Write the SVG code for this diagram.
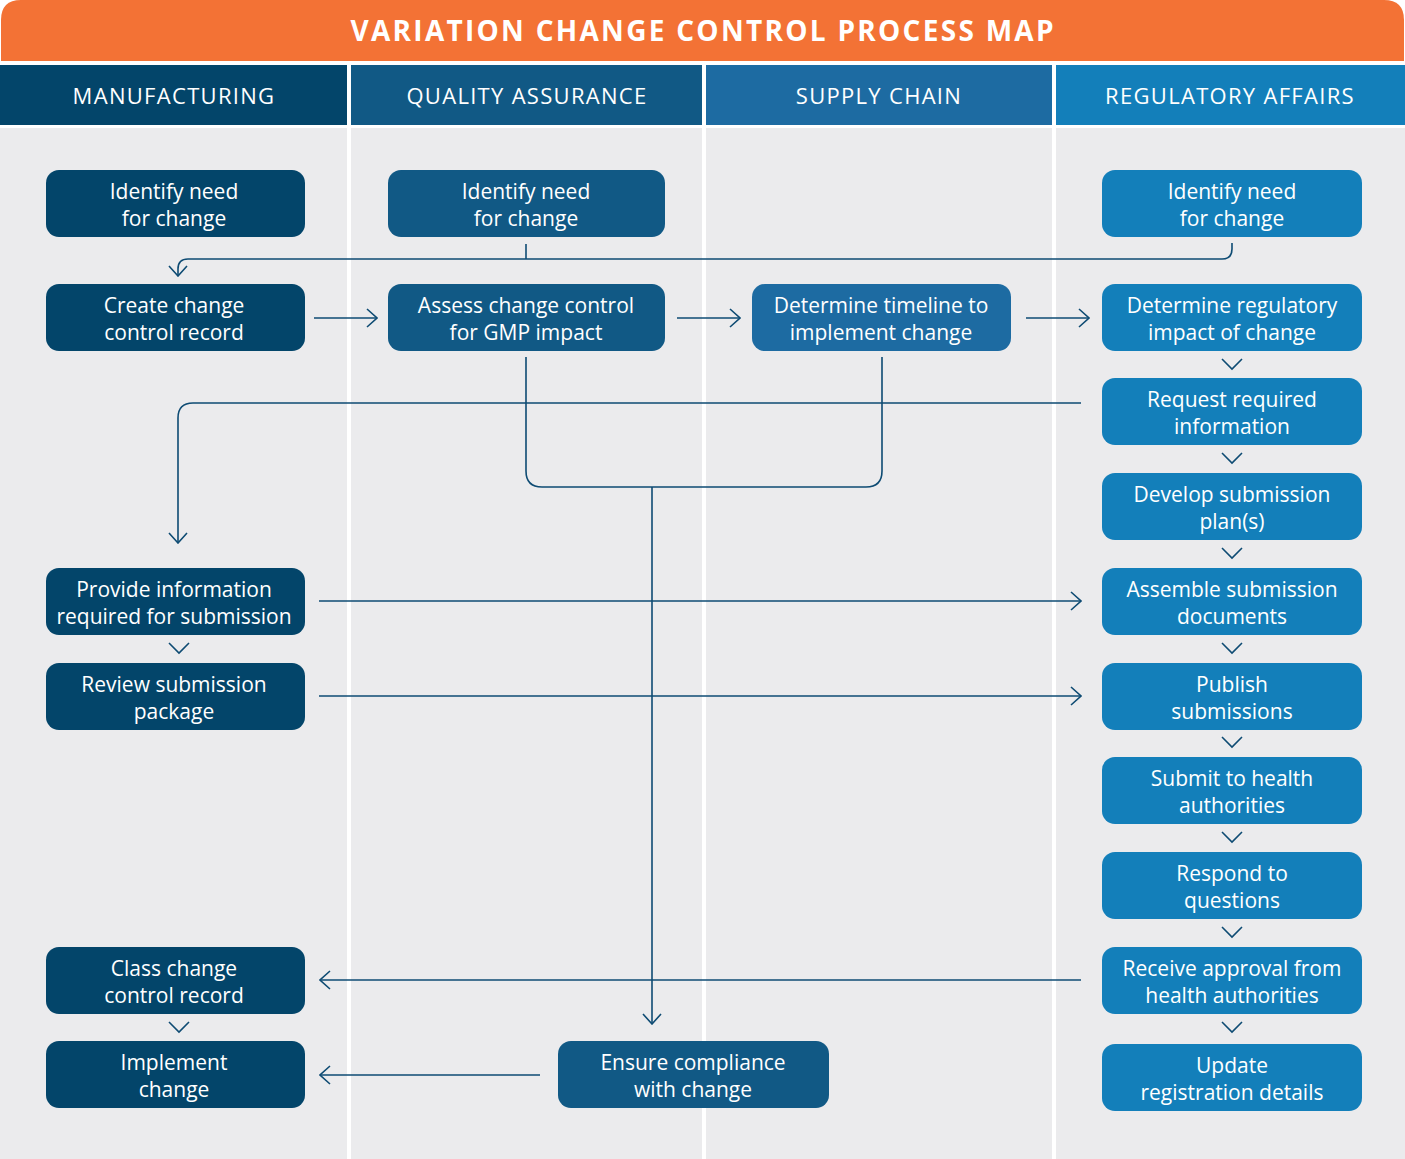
<svg xmlns="http://www.w3.org/2000/svg" width="1405" height="1159" viewBox="0 0 1405 1159">
<style>
.lane{fill:#EBEBED}
.hdr{font-family:"Open Sans","Liberation Sans",sans-serif;font-size:22px;fill:#fff;text-anchor:middle;letter-spacing:1.3px}
.t{font-family:"Open Sans","Liberation Sans",sans-serif;font-size:21px;fill:#fff;text-anchor:middle}
.m{fill:#03456A}
.q{fill:#115985}
.s{fill:#1D6BA2}
.r{fill:#137FBA}
.c{fill:none;stroke:#0E4B73;stroke-width:1.6}
.ch{fill:none;stroke:#0E4B73;stroke-width:1.6}
</style>
<defs>
<marker id="a" viewBox="0 0 12 20" refX="11" refY="10" markerWidth="12" markerHeight="20" markerUnits="userSpaceOnUse" orient="auto">
<path d="M1,1 L11,10 L1,19" fill="none" stroke="#0E4B73" stroke-width="1.6"/>
</marker>
</defs>
<rect width="1405" height="1159" fill="#fff"/>
<path d="M1,61 V20 Q1,0 21,0 H1384 Q1404,0 1404,20 V61 Z" fill="#F37235"/>
<text x="702" y="41" font-family="'Open Sans','Liberation Sans',sans-serif" font-size="28" font-weight="bold" fill="#fff" text-anchor="middle" textLength="703" lengthAdjust="spacing">VARIATION CHANGE CONTROL PROCESS MAP</text>
<g id="lanes">
<rect class="lane" x="0" y="128" width="347" height="1031"/>
<rect class="lane" x="351" y="128" width="351" height="1031"/>
<rect class="lane" x="706" y="128" width="346" height="1031"/>
<rect class="lane" x="1056" y="128" width="349" height="1031"/>
<rect class="m" x="0" y="65" width="347" height="60"/>
<rect class="q" x="351" y="65" width="351" height="60"/>
<rect class="s" x="706" y="65" width="346" height="60"/>
<rect class="r" x="1056" y="65" width="349" height="60"/>
<text class="hdr" x="174" y="104">MANUFACTURING</text>
<text class="hdr" x="527" y="104">QUALITY ASSURANCE</text>
<text class="hdr" x="879" y="104">SUPPLY CHAIN</text>
<text class="hdr" x="1230" y="104">REGULATORY AFFAIRS</text>
</g>
<g id="connectors">
<path class="c" d="M1232,243 V249 Q1232,259 1222,259 H188 Q178,259 178,269 V276" marker-end="url(#a)"/>
<path class="c" d="M526,244 V259"/>
<path class="c" d="M314,318 H377" marker-end="url(#a)"/>
<path class="c" d="M677,318 H740" marker-end="url(#a)"/>
<path class="c" d="M1026,318 H1089" marker-end="url(#a)"/>
<path class="c" d="M1081,403 H193 Q178,403 178,418 V543" marker-end="url(#a)"/>
<path class="c" d="M526,357 V471 Q526,487 542,487 H866 Q882,487 882,471 V357"/>
<path class="c" d="M652,487 V1024" marker-end="url(#a)"/>
<path class="c" d="M319,601 H1081" marker-end="url(#a)"/>
<path class="c" d="M319,696 H1081" marker-end="url(#a)"/>
<path class="c" d="M1081,980 H320" marker-end="url(#a)"/>
<path class="c" d="M540,1075 H320" marker-end="url(#a)"/>
<path class="ch" d="M1222,359 L1232,369 L1242,359"/>
<path class="ch" d="M1222,453 L1232,463 L1242,453"/>
<path class="ch" d="M1222,548 L1232,558 L1242,548"/>
<path class="ch" d="M1222,643 L1232,653 L1242,643"/>
<path class="ch" d="M1222,737 L1232,747 L1242,737"/>
<path class="ch" d="M1222,832 L1232,842 L1242,832"/>
<path class="ch" d="M1222,927 L1232,937 L1242,927"/>
<path class="ch" d="M1222,1022 L1232,1032 L1242,1022"/>
<path class="ch" d="M169,643 L179,653 L189,643"/>
<path class="ch" d="M169,1022 L179,1032 L189,1022"/>
</g>
<g id="m1"><rect class="m" x="46" y="170" width="259" height="67" rx="13"/><text class="t" x="174" y="199">Identify need</text><text class="t" x="174" y="226">for change</text></g>
<g id="m2"><rect class="m" x="46" y="284" width="259" height="67" rx="13"/><text class="t" x="174" y="313">Create change</text><text class="t" x="174" y="340">control record</text></g>
<g id="m3"><rect class="m" x="46" y="568" width="259" height="67" rx="13"/><text class="t" x="174" y="597">Provide information</text><text class="t" x="174" y="624">required for submission</text></g>
<g id="m4"><rect class="m" x="46" y="663" width="259" height="67" rx="13"/><text class="t" x="174" y="692">Review submission</text><text class="t" x="174" y="719">package</text></g>
<g id="m5"><rect class="m" x="46" y="947" width="259" height="67" rx="13"/><text class="t" x="174" y="976">Class change</text><text class="t" x="174" y="1003">control record</text></g>
<g id="m6"><rect class="m" x="46" y="1041" width="259" height="67" rx="13"/><text class="t" x="174" y="1070">Implement</text><text class="t" x="174" y="1097">change</text></g>
<g id="q1"><rect class="q" x="388" y="170" width="277" height="67" rx="13"/><text class="t" x="526" y="199">Identify need</text><text class="t" x="526" y="226">for change</text></g>
<g id="q2"><rect class="q" x="388" y="284" width="277" height="67" rx="13"/><text class="t" x="526" y="313">Assess change control</text><text class="t" x="526" y="340">for GMP impact</text></g>
<g id="q3"><rect class="q" x="558" y="1041" width="271" height="67" rx="13"/><text class="t" x="693" y="1070">Ensure compliance</text><text class="t" x="693" y="1097">with change</text></g>
<g id="s1"><rect class="s" x="752" y="284" width="259" height="67" rx="13"/><text class="t" x="881" y="313">Determine timeline to</text><text class="t" x="881" y="340">implement change</text></g>
<g id="r1"><rect class="r" x="1102" y="170" width="260" height="67" rx="13"/><text class="t" x="1232" y="199">Identify need</text><text class="t" x="1232" y="226">for change</text></g>
<g id="r2"><rect class="r" x="1102" y="284" width="260" height="67" rx="13"/><text class="t" x="1232" y="313">Determine regulatory</text><text class="t" x="1232" y="340">impact of change</text></g>
<g id="r3"><rect class="r" x="1102" y="378" width="260" height="67" rx="13"/><text class="t" x="1232" y="407">Request required</text><text class="t" x="1232" y="434">information</text></g>
<g id="r4"><rect class="r" x="1102" y="473" width="260" height="67" rx="13"/><text class="t" x="1232" y="502">Develop submission</text><text class="t" x="1232" y="529">plan(s)</text></g>
<g id="r5"><rect class="r" x="1102" y="568" width="260" height="67" rx="13"/><text class="t" x="1232" y="597">Assemble submission</text><text class="t" x="1232" y="624">documents</text></g>
<g id="r6"><rect class="r" x="1102" y="663" width="260" height="67" rx="13"/><text class="t" x="1232" y="692">Publish</text><text class="t" x="1232" y="719">submissions</text></g>
<g id="r7"><rect class="r" x="1102" y="757" width="260" height="67" rx="13"/><text class="t" x="1232" y="786">Submit to health</text><text class="t" x="1232" y="813">authorities</text></g>
<g id="r8"><rect class="r" x="1102" y="852" width="260" height="67" rx="13"/><text class="t" x="1232" y="881">Respond to</text><text class="t" x="1232" y="908">questions</text></g>
<g id="r9"><rect class="r" x="1102" y="947" width="260" height="67" rx="13"/><text class="t" x="1232" y="976">Receive approval from</text><text class="t" x="1232" y="1003">health authorities</text></g>
<g id="r10"><rect class="r" x="1102" y="1044" width="260" height="67" rx="13"/><text class="t" x="1232" y="1073">Update</text><text class="t" x="1232" y="1100">registration details</text></g>
</svg>
